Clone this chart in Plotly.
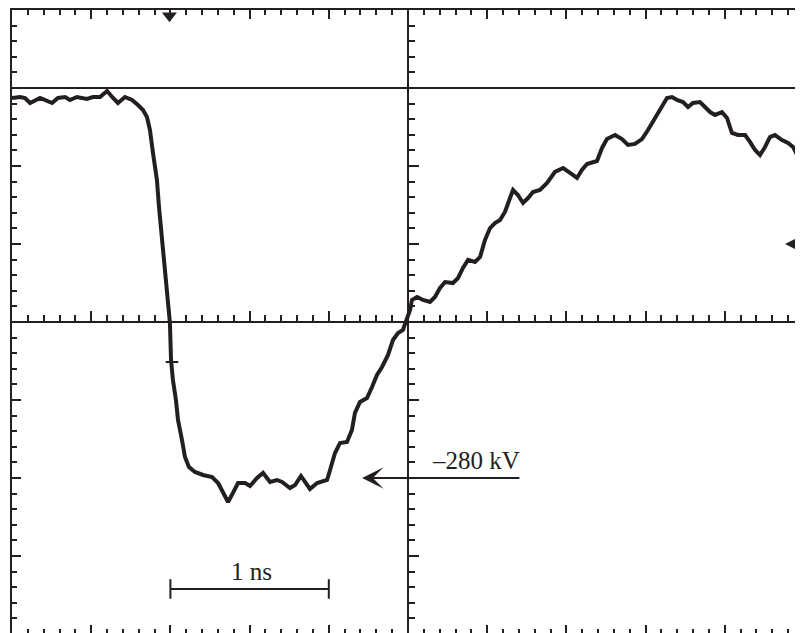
import plotly.graph_objects as go

# ---- data ----
time_ns = [0.000,0.051,0.082,0.114,0.177,0.253,0.290,0.335,0.366,0.410,0.473,0.511,0.556,0.600,0.638,0.669,0.713,0.758,0.795,0.827,
           0.852,0.871,0.890,0.915,0.928,0.947,0.960,0.979,0.991,0.997,1.004,1.016,1.035,1.048,1.073,1.092,1.117,1.155,1.206,1.263,
           1.301,1.332,1.364,1.395,1.427,1.471,1.503,1.547,1.585,1.629,1.673,1.705,1.755,1.787,1.824,1.850,1.881,1.926,1.989,2.008,
           2.039,2.071,2.115,2.146,2.165,2.197,2.241,2.273,2.304,2.336,2.374,2.405,2.437,2.468,2.494,2.513,2.525,2.557,2.595,2.639,
           2.670,2.702,2.734,2.784,2.816,2.847,2.879,2.923,2.955,2.986,3.018,3.049,3.081,3.112,3.144,3.163,3.194,3.226,3.258,3.289,
           3.333,3.378,3.428,3.479,3.523,3.567,3.598,3.630,3.693,3.725,3.756,3.807,3.851,3.889,3.933,3.977,4.015,4.059,4.104,4.135,
           4.167,4.198,4.236,4.268,4.299,4.343,4.375,4.407,4.438,4.482,4.514,4.545,4.583,4.628,4.659,4.691,4.722,4.754,4.785,4.817,
           4.861,4.899,4.931,4.962,4.994]
voltage_kv = [174.7,175.9,174.7,168.7,174.7,168.7,174.7,175.9,172.3,175.9,173.5,175.9,175.9,183.1,174.7,168.7,175.9,172.3,166.3,160.3,
              152.0,136.4,108.9,76.6,44.3,8.4,-27.5,-58.6,-82.6,-94.5,-138.8,-162.7,-186.7,-210.6,-234.5,-254.9,-266.8,-272.8,-276.4,-278.8,
              -286.0,-297.9,-308.7,-297.9,-286.0,-286.0,-289.6,-280.0,-274.0,-284.8,-282.4,-284.8,-292.0,-288.4,-277.6,-284.8,-293.2,-286.0,-282.4,-270.4,
              -250.1,-238.1,-236.9,-222.6,-202.2,-189.1,-184.3,-171.1,-156.8,-147.2,-132.8,-114.9,-106.5,-102.9,-90.9,-79.0,-67.0,-63.4,-67.0,-69.4,
              -63.4,-52.6,-45.5,-46.7,-40.7,-28.7,-19.1,-21.5,-15.6,4.8,19.1,25.1,28.7,38.3,55.0,64.6,58.6,49.1,55.0,62.2,
              64.6,73.0,86.2,90.9,85.0,79.0,88.5,95.7,99.3,114.9,125.6,130.4,125.6,118.5,119.7,125.6,136.4,150.8,166.3,174.7,
              175.9,172.3,169.9,163.9,168.7,169.9,163.9,157.9,154.4,157.9,150.8,132.8,130.4,130.4,122.1,112.5,106.5,116.1,128.0,130.4,
              124.4,120.9,116.1,104.1,92.1]

NS_PER_DIV = 0.5
KV_PER_DIV = 280.0 / 3.0
x_range = [0.0, 4.9937]
y_range = [-465.5, 280.0]
center_t = 2.5
center_v = -KV_PER_DIV          # screen centre line
reference_v = 2 * KV_PER_DIV    # upper reference line
ground_v = 0.0                  # ground marker level
level_v = -280.0
level_label = "\u2013280 kV"
scale_bar_ns = [1.0, 2.0]
scale_bar_v = [-412.8, -412.8]
scale_label = "1 ns"
trigger_t = [0.994]
trigger_v = [273.0]
cursor_t = [1.01]
cursor_v = [-141.2]

ink = "#231f20"
font = "Liberation Serif"

FIG_W, FIG_H = 795, 625
ML, MT = 4, 2

fig = go.Figure()
fig.add_trace(go.Scatter(x=time_ns, y=voltage_kv, mode="lines",
                         line=dict(color=ink, width=4), hoverinfo="skip", showlegend=False))
fig.add_trace(go.Scatter(x=scale_bar_ns, y=scale_bar_v, mode="lines+markers",
                         line=dict(color=ink, width=2),
                         marker=dict(symbol="line-ns-open", size=14, color=ink, line=dict(color=ink, width=2)),
                         hoverinfo="skip", showlegend=False))
fig.add_trace(go.Scatter(x=trigger_t, y=trigger_v, mode="markers", cliponaxis=False,
                         marker=dict(symbol="triangle-down", size=13, color=ink),
                         hoverinfo="skip", showlegend=False))
fig.add_trace(go.Scatter(x=cursor_t, y=cursor_v, mode="markers",
                         marker=dict(symbol="line-ew-open", size=9, color=ink, line=dict(color=ink, width=2)),
                         hoverinfo="skip", showlegend=False))
# empty traces to activate the extra tick axes
for xa_id, ya_id in [("x2", "y2"), ("x3", "y"), ("x", "y3")]:
    fig.add_trace(go.Scatter(x=[None], y=[None], xaxis=xa_id, yaxis=ya_id, hoverinfo="skip", showlegend=False))

def xticks(**kw):
    d = dict(range=x_range, showgrid=False, zeroline=False, showticklabels=False,
             ticks="inside", tick0=0, dtick=NS_PER_DIV, tickwidth=1.5, tickcolor=ink,
             linecolor=ink, linewidth=2,
             minor=dict(ticks="inside", dtick=NS_PER_DIV / 5, tickwidth=1.5, tickcolor=ink, showgrid=False))
    d.update(kw)
    return d

def yticks(**kw):
    d = dict(range=y_range, showgrid=False, zeroline=False, showticklabels=False,
             ticks="inside", tick0=0, dtick=KV_PER_DIV, tickwidth=1.5, tickcolor=ink,
             linecolor=ink, linewidth=2,
             minor=dict(ticks="inside", dtick=KV_PER_DIV / 5, tickwidth=1.5, tickcolor=ink, showgrid=False))
    d.update(kw)
    return d

# fraction positions of the centre lines inside the plot area
center_y_frac = (center_v - y_range[0]) / (y_range[1] - y_range[0])
center_x_frac = (center_t - x_range[0]) / (x_range[1] - x_range[0])

xa = xticks(side="top", showline=True, ticklen=9)
xa["minor"]["ticklen"] = 5
xa2 = xticks(side="bottom", overlaying="x", matches="x", anchor="y2", showline=False, ticklen=8)
xa2["minor"]["ticklen"] = 4
xa3 = xticks(side="bottom", overlaying="x", matches="x", anchor="free", position=center_y_frac,
             showline=True, ticklen=10)
xa3["minor"]["ticklen"] = 6
ya = yticks(side="left", showline=True, ticklen=9)
ya["minor"]["ticklen"] = 5
ya2 = yticks(side="right", overlaying="y", matches="y", anchor="x2", showline=False, ticklen=8)
ya2["minor"]["ticklen"] = 4
ya3 = yticks(side="left", overlaying="y", matches="y", anchor="free", position=center_x_frac,
             showline=True, ticklen=10)
ya3["minor"]["ticklen"] = 6

fig.update_layout(
    width=FIG_W, height=FIG_H, autosize=False,
    margin=dict(l=ML, r=0, t=MT, b=0, pad=0),
    paper_bgcolor="white", plot_bgcolor="white",
    xaxis=xa, xaxis2=xa2, xaxis3=xa3,
    yaxis=ya, yaxis2=ya2, yaxis3=ya3,
    shapes=[dict(type="line", xref="paper", x0=0, x1=1, yref="y", y0=reference_v, y1=reference_v,
                 line=dict(color=ink, width=2), layer="above")],
    annotations=[
        dict(x=2.932, y=-259.5, xref="x", yref="y", text=level_label, showarrow=False,
             font=dict(family=font, size=25, color=ink)),
        dict(x=2.210, y=level_v, xref="x", yref="y", ax=3.213, ay=level_v, axref="x", ayref="y",
             text="", showarrow=True, arrowhead=3, arrowsize=1.8, arrowwidth=2, arrowcolor=ink),
        dict(x=4.880, y=ground_v, xref="x", yref="y", ax=x_range[1], ay=ground_v, axref="x", ayref="y",
             text="", showarrow=True, arrowhead=3, arrowsize=1.8, arrowwidth=2, arrowcolor=ink),
        dict(x=sum(scale_bar_ns) / 2 + 0.015, y=-392.0, xref="x", yref="y", text=scale_label, showarrow=False,
             font=dict(family=font, size=25, color=ink)),
    ],
)

fig.write_html("out.html")
